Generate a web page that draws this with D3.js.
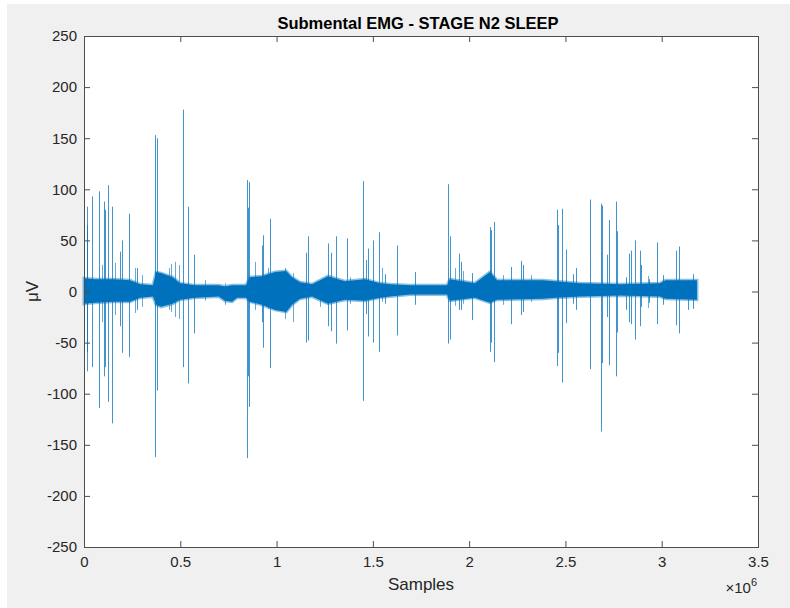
<!DOCTYPE html>
<html>
<head>
<meta charset="utf-8">
<script src="https://cdn.jsdelivr.net/npm/d3@7"></script>
<style>
  body { margin: 0; background: #fff; }
  text { font-family: "Liberation Sans", Arial, Helvetica, sans-serif; fill: #262626; }
</style>
</head>
<body>
<div id="chart"></div>
<script>
// axis ticks
var xTicks = [0, 0.5, 1, 1.5, 2, 2.5, 3, 3.5];
var yTicks = [-250, -200, -150, -100, -50, 0, 50, 100, 150, 200, 250];

// dense band of the signal (sample position in millions, upper / lower envelope in uV)
var envPos = [0, 0.057, 0.15, 0.239, 0.291, 0.358, 0.375, 0.4, 0.46, 0.499, 0.576, 0.7, 0.732, 0.769, 0.795,
  0.841, 0.862, 0.924, 0.992, 1.05, 1.08, 1.122, 1.184, 1.267, 1.355, 1.459, 1.537, 1.589, 1.693, 1.885,
  1.9, 2.03, 2.108, 2.145, 2.384, 2.446, 2.576, 2.783, 2.991, 3.02, 3.183];
var envHi = [13, 12, 12, 11, 7, 6, 19, 18, 14, 8, 6, 6, 5, 6, 6,
  6, 14, 15, 19, 20, 14, 9, 7, 15, 10, 12, 8, 7, 6, 6,
  12, 8, 19, 11, 11, 10, 8, 7, 8, 11, 11];
var envLo = [-12, -11, -10, -10, -6, -5, -13, -15, -12, -8, -6, -5, -9, -10, -6,
  -6, -10, -13, -18, -20, -13, -7, -5, -12, -8, -9, -6, -5, -3, -3,
  -9, -6, -11, -8, -7, -6, -5, -4, -5, -7, -8];

// isolated spikes (sample position in millions, peak, trough in uV)
var spikePos = [0.014, 0.017, 0.04, 0.076, 0.104, 0.111, 0.126, 0.144, 0.187, 0.199, 0.232, 0.277,
  0.37, 0.378, 0.516, 0.542, 0.573, 0.845, 0.85, 0.855, 0.923, 0.928, 0.967, 1.151, 1.162,
  1.269, 1.283, 1.309, 1.364, 1.449, 1.464, 1.475, 1.502, 1.532, 1.563, 1.627, 1.721,
  1.892, 1.901, 1.946, 1.958, 2.015, 2.108, 2.116, 2.129, 2.216, 2.268, 2.281,
  2.455, 2.46, 2.482, 2.505, 2.541, 2.553, 2.628, 2.685, 2.69, 2.714, 2.728, 2.761, 2.766,
  2.815, 2.829, 2.842, 2.86, 2.887, 2.894, 2.933, 2.974, 3.008, 3.074, 3.091, 3.138, 3.164];
var spikeHi = [65, 83, 93, 98, 88, 80, 104, 83, 39, 50, 76, 23,
  153, 150, 178, 83, 36, 109, 82, 107, 45, 55, 71, 38, 54,
  47, 38, 54, 52, 108, 31, 42, 50, 58, 17, 45, 19,
  105, 54, 37, 29, 18, 63, 60, 68, 24, 30, 26,
  80, 65, 81, 41, 17, 23, 90, 86, 84, 36, 70, 88, 59,
  14, 37, 40, 50, 40, 26, 12, 48, 16, 40, 44, 11, 17];
var spikeLo = [-59, -78, -74, -114, -83, -74, -108, -129, -34, -60, -64, -18,
  -162, -97, -74, -90, -41, -163, -83, -113, -30, -55, -75, -50, -48,
  -34, -39, -51, -38, -107, -22, -44, -50, -59, -12, -43, -13,
  -51, -47, -18, -18, -28, -59, -50, -69, -32, -23, -20,
  -73, -60, -89, -31, -12, -18, -76, -137, -70, -25, -72, -83, -40,
  -18, -30, -32, -47, -34, -15, -11, -32, -13, -33, -41, -18, -17];

// small hairs sticking out of the band
var hairPos = [0.093, 0.163, 0.267, 0.301, 0.44, 0.453, 0.474, 0.492, 0.63, 0.734, 0.888, 0.957,
  1.044, 1.087, 1.225, 1.381, 1.545, 1.925, 1.966, 2.176, 2.323, 2.927];
var hairHi = [26, 28, 23, 16, 23, 27, 29, 26, 11, 8, 29, 23,
  23, 18, 9, 14, 23, 23, 20, 16, 16, 15];
var hairLo = [-30, -23, -21, -15, -18, -20, -25, -27, -9, -13, -18, -17,
  -27, -30, -15, -12, -10, -14, -12, -13, -10, -16];

var margin = { top: 36, right: 32, bottom: 61, left: 84 },
  width = 790 - margin.left - margin.right,
  height = 608 - margin.top - margin.bottom;

var blue = "#0072BD";

var svg = d3.select("#chart").append("svg")
  .attr("width", 790)
  .attr("height", 608);

// figure background
svg.append("rect")
  .attr("x", 7).attr("y", 4)
  .attr("width", 783).attr("height", 604)
  .attr("fill", "#f0f0f0");

var g = svg.append("g")
  .attr("transform", "translate(" + margin.left + "," + margin.top + ")");

g.append("rect")
  .attr("width", width).attr("height", height)
  .attr("fill", "#fff");

var x = d3.scaleLinear().domain([0, 3.5]).range([0, width]);
var y = d3.scaleLinear().domain([-250, 250]).range([height, 0]);

// signal band
var band = envPos.map(function(p, i) { return { p: p, hi: envHi[i], lo: envLo[i] }; });
var area = d3.area()
  .x(function(d) { return x(d.p); })
  .y0(function(d) { return y(d.lo); })
  .y1(function(d) { return y(d.hi); });

g.append("path")
  .datum(band)
  .attr("d", area)
  .attr("fill", blue)
  .attr("stroke", blue)
  .attr("stroke-opacity", 0.45)
  .attr("stroke-width", 3);

// spikes and hairs as thin vertical strokes
function drawStrokes(cls, pos, hi, lo, op) {
  var rows = pos.map(function(p, i) { return { p: p, hi: hi[i], lo: lo[i] }; });
  g.selectAll("." + cls)
    .data(rows)
    .enter()
    .append("line")
    .attr("class", cls)
    .attr("x1", function(d) { return Math.round(x(d.p)) + 0.5; })
    .attr("x2", function(d) { return Math.round(x(d.p)) + 0.5; })
    .attr("y1", function(d) { return y(d.hi); })
    .attr("y2", function(d) { return y(d.lo); })
    .attr("stroke", blue)
    .attr("stroke-width", 1)
    .attr("stroke-opacity", op);
}
drawStrokes("hair", hairPos, hairHi, hairLo, 0.6);
drawStrokes("spike", spikePos, spikeHi, spikeLo, 0.75);

// axes, ticks pointing inwards on every side
var axisColor = "#4d4d4d";
var fmt = function(d) { return String(d); };
var xb = g.append("g")
  .attr("transform", "translate(0," + height + ")")
  .call(d3.axisBottom(x).tickValues(xTicks).tickSizeInner(-6).tickSizeOuter(0).tickPadding(9).tickFormat(fmt));
var xt = g.append("g")
  .call(d3.axisTop(x).tickValues(xTicks).tickSizeInner(-6).tickSizeOuter(0).tickFormat(""));
var yl = g.append("g")
  .call(d3.axisLeft(y).tickValues(yTicks).tickSizeInner(-6).tickSizeOuter(0).tickPadding(7).tickFormat(fmt));
var yr = g.append("g")
  .attr("transform", "translate(" + width + ",0)")
  .call(d3.axisRight(y).tickValues(yTicks).tickSizeInner(-6).tickSizeOuter(0).tickFormat(""));

[xb, xt, yl, yr].forEach(function(a) {
  a.select(".domain").remove();
  a.selectAll("line").attr("stroke", axisColor);
  a.selectAll("text").style("font-size", "15px").attr("fill", "#262626");
});

// box
g.append("rect")
  .attr("x", 0.5).attr("y", 0.5)
  .attr("width", width).attr("height", height)
  .attr("fill", "none")
  .attr("stroke", axisColor)
  .attr("stroke-width", 1);

// title
svg.append("text")
  .attr("x", margin.left + width / 2 - 3)
  .attr("y", 29)
  .attr("text-anchor", "middle")
  .style("font-size", "16.5px")
  .style("font-weight", "bold")
  .style("fill", "#000")
  .text("Submental EMG - STAGE N2 SLEEP");

// x label
svg.append("text")
  .attr("x", margin.left + width / 2)
  .attr("y", 590)
  .attr("text-anchor", "middle")
  .style("font-size", "17px")
  .text("Samples");

// exponent
var ex = svg.append("text")
  .attr("x", 757)
  .attr("y", 593)
  .attr("text-anchor", "end")
  .style("font-size", "15px");
ex.append("tspan").text("\u00d710");
ex.append("tspan").attr("dy", -7).style("font-size", "11px").text("6");

// y label
svg.append("text")
  .attr("transform", "translate(38," + (margin.top + height / 2) + ") rotate(-90)")
  .attr("text-anchor", "middle")
  .style("font-size", "17px")
  .text("\u03bcV");
</script>
</body>
</html>
